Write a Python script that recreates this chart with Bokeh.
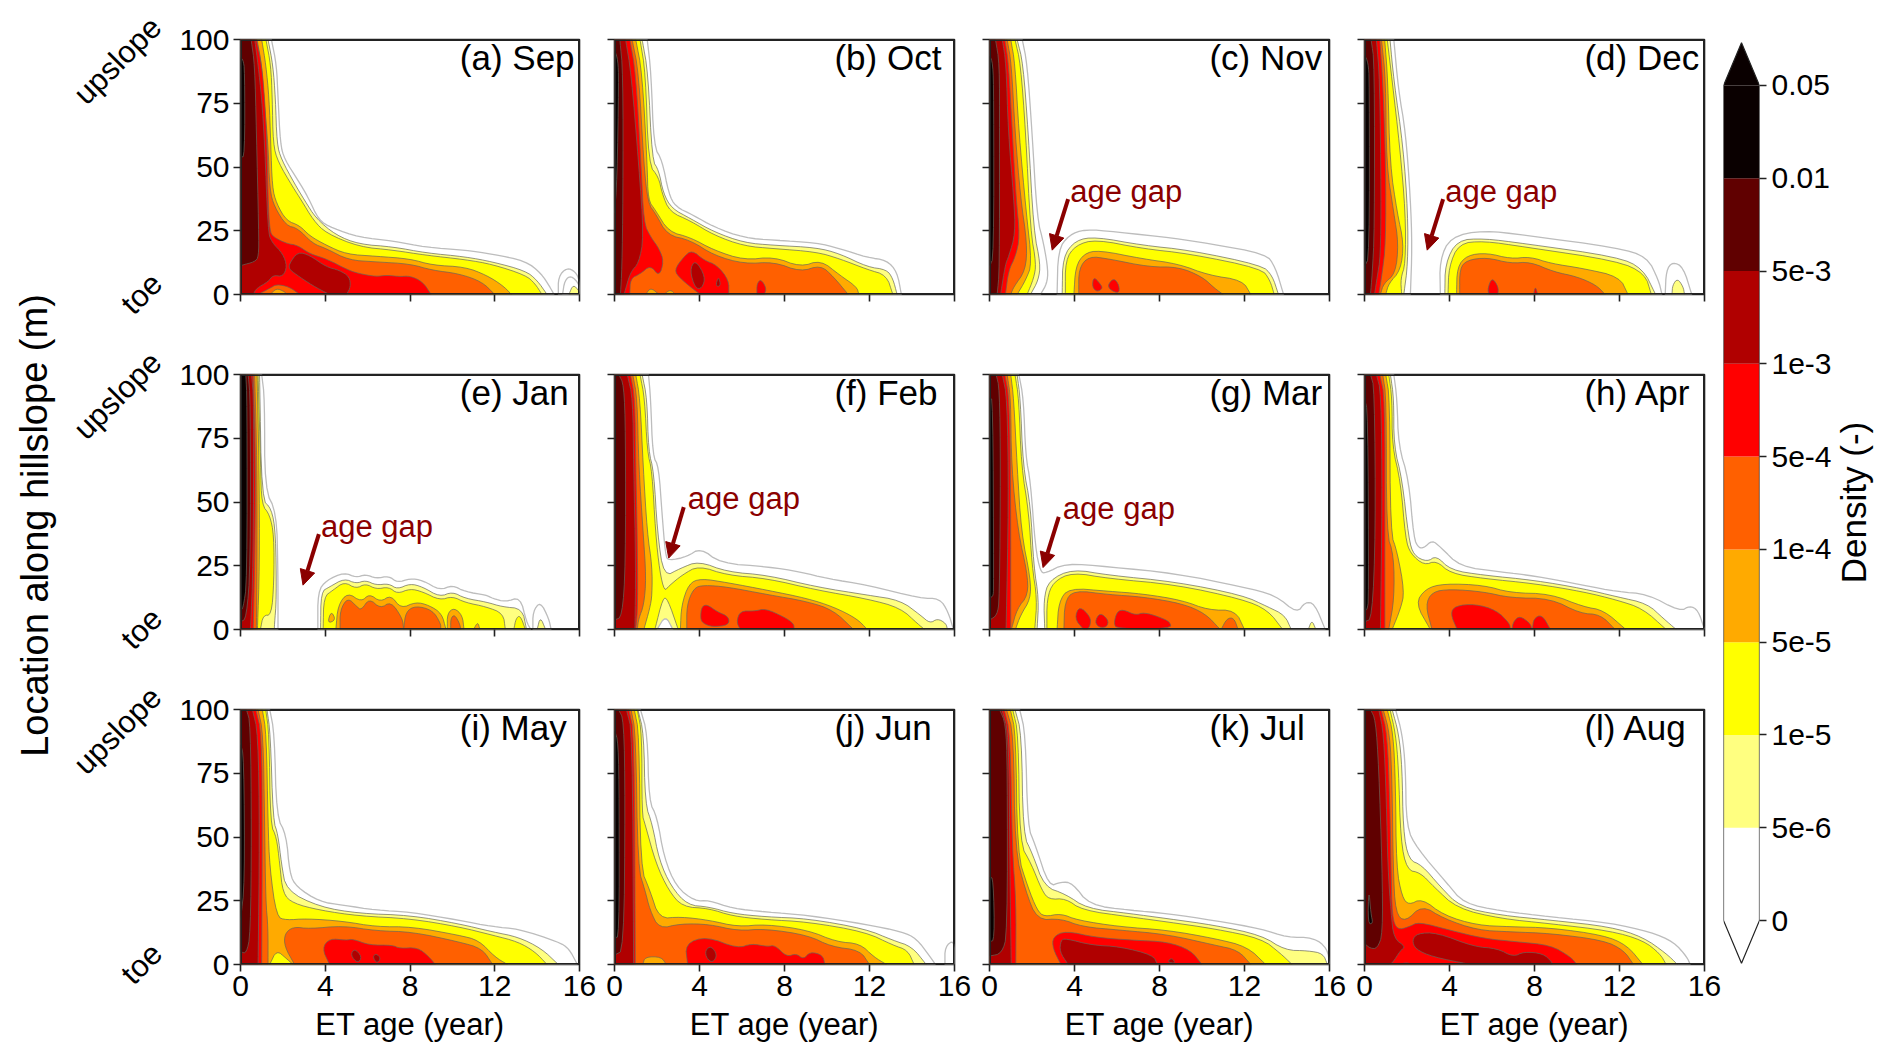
import math
from bokeh.plotting import figure
from bokeh.layouts import row, column
from bokeh.models import FixedTicker, Label, Arrow, NormalHead, ColumnDataSource, LinearAxis
from bokeh.core.properties import value
from bokeh.embed import file_html
from bokeh.resources import INLINE

# ---- labels ----
LEVEL_COLORS = ["#ffffff", "#ffff80", "#ffff00", "#ffaa00", "#ff6000", "#ff0000", "#b00000", "#600000", "#0a0000"]
CB_LABELS = ["0", "5e-6", "1e-5", "5e-5", "1e-4", "5e-4", "1e-3", "5e-3", "0.01", "0.05"]
X_TICKS = [0, 4, 8, 12, 16]
Y_TICKS = [0, 25, 50, 75, 100]
TITLES = ["(a) Sep", "(b) Oct", "(c) Nov", "(d) Dec", "(e) Jan", "(f) Feb", "(g) Mar", "(h) Apr", "(i) May", "(j) Jun", "(k) Jul", "(l) Aug"]

# ---- contour outlines: (level, [age, location, age, location, ...]) ----
SEP = [
 (0,[1.46,100,1.7,90,1.77,77.5,1.88,59,2.08,53,2.7,45,3.2,38,3.7,29,4.35,26,5.6,22.4,7.2,21,8.75,18.5,10.6,17.4,11.9,15.8,13.45,13.2,14.2,8.2,14.6,3,14.8,0]),
 (0,[15,0,15,7,15.4,10.5,15.8,9,16,5.6,16,0]),
 (0,[15.2,0,15.3,5.5,15.6,7.5,16,4,16,0]),
 (1,[15.5,0,15.7,4,16,1.2,16,0]),
 (1,[1.3,100,1.53,90,1.65,77,1.72,59,1.93,53,2.55,43.5,3.02,37,3.57,29.8,4.5,23.3,5.6,19.7,7.2,18.7,8.75,16.3,10.6,14.8,11.9,12.8,13.45,9.3,14,5.6,14.47,0]),
 (2,[1.2,100,1.43,90,1.5,77,1.54,59,1.77,52,2.48,42,2.87,37,3.45,29,4.05,24,5.6,18.7,7.2,17.4,8.75,15.4,10.6,13.7,11.9,11.8,13.45,7.6,13.9,4.3,14.23,0]),
 (3,[1,100,1.2,90,1.35,77,1.43,59,1.5,42,1.7,35.7,2.16,29,2.8,27,3.26,23,4.05,19.3,5,15.8,6.4,15,8,14,9.05,11.5,10.6,10.8,11.6,7.6,12.35,3.7,12.8,0]),
 (4,[.78,100,1,90,1.1,77,1.3,59,1.38,41,1.6,34.4,2.16,27,2.7,26,3.4,20,4.05,18,5.1,13.5,6.4,12.8,8,12,9.05,9.5,10.3,8.2,11.4,5,12,0]),
 (5,[.75,100,1,90,1.14,77,1.25,59,1.3,38,1.38,25,1.54,22.6,2.16,20,2.7,19.3,3.26,16,4.05,14,5.1,9.5,5.6,8.2,6.4,7,6.9,7.6,7.5,7,8,7.3,8.6,5,9,0]),
 (4,[.83,0,1.4,2.5,1.7,4,2.3,3,2.8,0]),
 (3,[1.4,0,1.7,2.5,2.1,1,2.2,0]),
 (6,[.67,100,.83,90,1,77,1.14,59,1.3,25,1.46,20.6,2,16,2.2,11,2,7,1.54,7.6,1.3,5,.75,2.4,.6,0]),
 (6,[4.2,0,3.4,3.5,2.6,8,2.3,10,2.3,12,2.7,16.7,3.26,15.4,4.05,10.8,4.67,9.5,5.14,7,5.2,3,5,0]),
 (7,[.5,100,.67,90,.75,64,.86,25,.86,14.8,.67,12.8,.05,11.5,0,11]),
 (8,[0,93,.12,92,.2,88,.2,54,0,54]),
]
OCT = [
 (0,[1.54,100,1.72,87,1.85,58,2.24,52.7,2.55,39.6,2.87,34.4,3.73,31,4.67,26.5,6.1,22.2,7.5,21.3,9.5,20.3,10.6,18,11.9,14.5,12.8,13.5,13.3,8.9,13.5,0]),
 (1,[1.3,100,1.58,87,1.77,52.7,2.08,48.8,2.3,39.6,2.7,33.7,3.57,29.8,4.67,24.6,6.1,20.3,7.5,19.3,9.5,18.4,10.6,16,11.9,10.8,12.8,9.8,13.1,6.3,13.3,0]),
 (2,[1.2,100,1.46,87,1.6,51,2.08,46,2.24,39.6,2.6,32.4,3.57,28.9,4.67,23.3,6.1,19,7.5,18,9.5,16.7,10.6,14,11.9,9.8,12.8,7.6,13.1,0]),
 (3,[1,100,1.3,87,1.54,51,1.58,37,1.93,33,2.55,24.6,3.57,22.4,4.67,17.4,6.1,13.5,7.5,14.8,8.75,10.8,9.7,13.5,10.6,7.6,11.4,3,11.5,0]),
 (4,[.83,100,1.14,87,1.38,51,1.58,35.7,1.93,31.8,2.48,23.3,3.57,21.3,4.67,15.4,6.1,12,7.5,12.8,8.75,8.9,9.7,11.5,10.3,7,11,0]),
 (3,[1.46,0,1.7,2.7,2.1,0]),
 (3,[2.32,0,2.63,2,2.87,0]),
 (5,[.72,100,1,87,1.25,51,1.38,28,1.7,22.6,2.1,18,2.32,13,2.1,7,1.7,11.5,1.2,8,.75,6.3,.72,0]),
 (5,[4.04,0,3.57,3,3.1,6.3,2.8,9.5,3.26,14.8,3.65,17.4,4.2,13.5,4.83,11.5,5.38,5.6,5.38,0]),
 (5,[6.7,0,6.7,4.3,6.9,6,7.15,2.4,7.05,0]),
 (6,[3.8,2.4,3.54,9.5,3.8,13.7,4.28,7,4.12,2.4]),
 (6,[4.75,3.3,4.9,7.2,5,3.3]),
 (6,[.52,100,.78,87,1.14,51,1.38,22.6,1.14,12.2,.75,8.9,.45,0]),
 (7,[.25,100,.4,87,.4,38,.35,10,.28,0]),
 (8,[0,96,.16,92,.2,84,.12,45,0,32]),
]
NOV = [
 (0,[1.54,100,1.77,90.6,2,64,2.24,30,2.55,20,2.76,9.5,2.7,4.3,2.4,0]),
 (0,[3.18,0,3.23,17.4,3.73,23.3,4.5,25.6,5.9,24.6,8.75,22,10.3,20,13,16,13.45,10.8,13.84,0]),
 (1,[1.3,100,1.58,90.6,1.82,64,2.08,25,2.4,12,2.3,5.6,1.93,0]),
 (1,[3.42,0,3.45,14.8,4.05,21.3,5,22.6,7.2,19.3,9.4,17.4,12.8,11.5,13.3,7.6,13.6,0]),
 (2,[1.2,100,1.46,90.6,1.7,64,1.93,25,2.2,12,2.08,6.3,1.77,0]),
 (2,[3.57,0,3.57,13.5,4.05,19.3,5,21.6,7.2,18,9.4,16,12.8,10.2,13.2,5.6,13.4,0]),
 (3,[1,100,1.2,90.6,1.38,64,1.73,32,2,12,1.7,5.6,1.3,0]),
 (3,[3.97,0,4.05,10.8,4.44,16,5.14,17.4,7.2,14,8.9,12,10.3,7.6,11.9,5.6,12.3,0]),
 (4,[.83,100,1.03,90.6,1.2,64,1.46,38,1.77,20,1.7,9.5,1.14,3,1,0]),
 (4,[4.2,0,4.2,10.2,4.67,15,5.6,14,7.5,10.8,8.9,10.8,10,7,10.6,2.4,11,0]),
 (5,[.72,100,.9,90.6,1.07,64,1.25,38,1.43,22.6,1.22,14.8,.9,9.5,.75,0]),
 (5,[4.9,7,5.2,4.3,5.33,2.4,5.06,1,4.83,3]),
 (5,[5.56,3.7,5.85,6.5,6.1,3.7,6.1,0.4,5.7,1.7]),
 (6,[.6,100,.78,90.6,.88,64,1.14,38,1.22,24,.9,14.8,.75,12,.52,0]),
 (7,[.28,100,.47,90.6,.47,64,.47,9.5,.36,0]),
 (8,[0,94,.16,90.6,.2,77.5,.2,14.8,0,11]),
]
DEC = [
 (0,[1.38,100,1.6,80,1.93,64,2.16,38,2.24,18.7,2.16,0]),
 (0,[3.57,0,3.54,13.5,4.05,22.6,5.6,25.2,7.5,23.3,11.9,18.4,13.3,14.8,13.84,5.6,14,0]),
 (0,[14.15,0,14.2,9.5,14.5,12.8,15,10.8,15.4,0]),
 (1,[14.47,0,14.5,3.7,14.73,6.3,15,3,15.06,0]),
 (1,[1.2,100,1.38,84,1.82,58,2.04,32,2.04,12,1.85,0]),
 (1,[3.78,0,3.8,12.2,4.36,21.3,5.6,22,7.5,20,11.9,14.8,13.1,10.2,13.7,0]),
 (2,[1.07,100,1.3,84,1.66,58,1.93,32,1.93,12,1.7,6.3,1.75,0]),
 (2,[3.93,0,3.97,10.8,4.44,20,5.6,21,7.5,18.7,11.9,13.2,13.2,8.2,13.5,0]),
 (3,[.95,100,1.1,84,1.2,51,1.54,32,1.85,20,1.7,9.5,1.14,4.3,1,0]),
 (3,[4.33,0,4.36,10.8,4.83,15.4,5.77,16.3,6.87,14,7.8,14.8,8.75,12.2,10.3,10.2,12,7,12.4,0]),
 (4,[.8,100,1,84,1.03,51,1.38,32,1.6,20,1.46,8.2,.9,4.3,.75,0]),
 (4,[4.48,0,4.48,10.2,4.83,13.5,5.77,14.5,6.87,12.2,7.8,12.8,8.9,8.9,10,7,10.9,3.7,11.33,0]),
 (5,[.72,100,.86,84,1,51,1,20,.83,8.2,.67,0]),
 (5,[5.85,0,5.8,2.4,6,6.7,6.3,3,6.28,0]),
 (5,[7.96,0,8.04,3.3,8.15,0]),
 (6,[.56,100,.72,84,.78,38,.75,14.8,.6,7,.47,0]),
 (7,[.31,100,.47,90.6,.47,25,.36,7.6,.28,0]),
 (8,[0,94,.17,91,.23,84,.23,14.8,0,11]),
]
JAN = [
 (0,[1,100,1.14,90.6,1.14,55,1.7,46,1.77,22.6,1.77,0]),
 (0,[3.65,0,3.65,14.8,4.05,19.3,4.9,22.4,5.45,20.4,5.9,21.6,6.4,20,7,21,7.4,18.4,8,20,8.6,19.3,9.4,15.4,10,17.4,10.6,14.8,11.6,13.5,11.9,12.2,12.5,10.8,13.2,12.8,13.5,3,13.7,0]),
 (0,[13.8,0,13.8,7,14.15,11,14.55,4.3,14.66,0]),
 (1,[14,0,14.15,5,14.4,0]),
 (1,[.9,100,1,51,1.46,47.5,1.66,38,1.7,12,1.6,1.7,1.6,0]),
 (1,[3.78,0,3.8,14.8,4.2,16.7,4.9,20,5.45,18,5.9,19.3,6.4,17.4,7,18,7.4,15.8,8,18,8.6,16.7,9.4,12.8,10,14.8,10.6,12.2,11.6,10.8,12.35,8.9,13.3,8.2,13.5,0]),
 (2,[.83,100,.95,64,1,49,1.38,45,1.58,37,1.58,18.7,1.46,5.6,1.07,5.6,.94,0]),
 (2,[3.9,0,3.93,12.8,4.36,15.4,4.9,18.7,5.45,16,5.9,18,6.4,15.8,7,16.7,7.4,14,8,16,8.6,14.8,9.4,11.5,10,13,10.6,10.6,11.6,8.9,12.4,6.3,12.5,0]),
 (2,[12.9,0,13,4.3,13.2,5.6,13.45,0]),
 (3,[.78,100,.88,64,.9,25,.8,0]),
 (3,[4.5,0,4.6,9.5,5.06,14.5,5.7,10.8,6.08,14,6.6,10.8,7.1,13.5,7.57,8.2,8.27,10.8,8.9,9.5,9.5,6.3,9.7,0]),
 (3,[9.76,0,9.76,6.3,10.08,8.5,10.47,5.6,10.55,0]),
 (3,[11,0,11.2,3,11.3,0]),
 (3,[4.1,2.4,4.28,7.3,4.5,3.7]),
 (4,[.67,100,.78,64,.78,25,.75,0]),
 (4,[4.7,0,4.7,7.6,5.06,12.5,5.5,8.9,5.7,7.6,6.08,12.2,6.6,8.2,7.1,11,7.65,4.3,7.7,0]),
 (4,[7.7,0,7.8,7,8.27,9.3,9.06,7.6,9.45,2.4,9.45,0]),
 (4,[9.92,0,9.92,4.3,10.1,5.9,10.34,2.4,10.4,0]),
 (5,[.6,100,.72,64,.67,25,.6,0]),
 (6,[.52,100,.63,90,.6,25,.47,0]),
 (7,[.36,100,.47,90,.47,25,.28,4.3,0,3]),
 (8,[.25,100,.31,90,.31,18.7,.12,8.2,0,7.6]),
]
FEB = [
 (0,[1.6,100,1.7,90.6,1.8,68,2.08,64,2.24,45,2.4,29,2.55,27,3.4,28.5,4.05,32,4.98,26,7.2,24.6,8.75,22.6,10,20,11.9,17.4,14.4,12.2,15.3,12.2,15.7,7,15.95,0]),
 (1,[1.3,100,1.53,90.6,1.6,70,1.85,62,2.02,38,2.32,20.6,3.1,24,3.96,26.8,5.3,22.6,7.2,21.3,9.5,16.7,11.9,13.5,13.45,11.5,14.4,5.6,14.85,2.4,15.2,4.3,15.6,2.4,15.67,0]),
 (2,[1.2,100,1.42,90.6,1.54,70,1.77,62,1.93,38,2.13,22.6,2.35,15,2.55,17,3.2,21.5,3.96,25,5.3,21.3,7.2,20,9.5,15.5,11.9,12,13.45,8.5,14.3,2,14.6,0]),
 (1,[1.9,0,2.28,12.5,2.5,12,3,0]),
 (0,[2,0,2.4,5.5,2.75,0]),
 (3,[3.1,0,3.15,9.5,3.5,18,4.05,20,5.3,18.4,7.2,15.4,9.06,12.2,10.3,8.9,11.4,4.3,11.9,0]),
 (3,[1,100,1.2,90.6,1.35,64,1.54,38,1.77,25,1.77,13.5,1.66,8.2,1.38,0]),
 (4,[.86,100,1.07,90.6,1.14,64,1.35,38,1.49,20,1.38,9.5,1.14,4.3,1.07,0]),
 (4,[3.4,0,3.4,9.5,3.73,16.3,4.2,17.4,5.3,16.7,7.2,13.7,9.06,11,10.3,7.6,11.25,0]),
 (5,[.75,100,.96,90.6,1,64,1.07,38,1.1,9.5,1,0]),
 (5,[4.04,4.3,4.1,9,4.36,9.8,4.83,7,5.38,5,5.38,1.7,4.6,1,4.17,2.4]),
 (5,[5.92,0,5.74,3,5.92,7.3,6.6,7.2,7.1,8.2,7.96,5,8.43,2.4,8.46,0]),
 (6,[.6,100,.86,90.6,.9,64,1,25,.96,0]),
 (7,[.2,100,.44,96,.52,77.5,.52,25,.36,5,0,3.7]),
]
MAR = [
 (0,[1.38,100,1.6,90.6,1.7,68,1.93,58,2.16,32,2.4,22.6,2.63,22,3.57,26,5.6,24.6,8.75,22,11.9,16.7,13.45,13.5,14.47,6.3,14.85,10.8,15.3,10.2,15.8,0]),
 (1,[15,0,15.17,3.7,15.36,0]),
 (1,[1.3,100,1.45,90.6,1.58,64,1.93,48.8,2.08,25,2.32,12,2.24,0]),
 (2,[1.2,100,1.38,90.6,1.5,64,1.85,46,2,25,2.24,12,2.13,0]),
 (3,[1,100,1.14,90.6,1.3,64,1.5,38,1.93,20,1.93,12,1.46,5.6,1.22,0]),
 (4,[.83,100,1,90.6,1.03,64,1.35,38,1.77,22.6,1.82,13.5,1.3,8.2,1.03,0]),
 (1,[2.6,0,2.55,12,2.8,19.3,3.9,23.7,5.6,21.3,8.75,18.7,11.9,13.5,13.1,8.9,13.9,5.6,14.2,0]),
 (2,[2.7,0,2.7,12,3,18.7,3.9,22.4,5.6,20,8.75,17.6,11.9,11.9,13.1,7.6,13.8,0]),
 (3,[3.18,0,3.26,10.8,3.73,16.3,5.6,15,7.2,14,9.06,11.5,10.3,7.6,11.57,7.6,12,0]),
 (4,[3.5,0,3.54,10.8,3.97,15.4,5.6,13.7,7.2,12.8,9.06,10.2,10.15,6.3,10.86,0]),
 (4,[10.9,0,11.17,4.3,11.5,4.6,11.7,0]),
 (5,[4.43,0,4,4.3,4.23,9.3,4.75,5,4.75,1.7,4.6,0]),
 (5,[4.95,3,5.2,6.7,5.6,3.7,5.53,1,5.17,.7]),
 (5,[5.85,2.4,6,7,6.3,7.8,6.87,5.6,7.26,6.7,7.96,5,8.5,3,8.54,.3,6,.3]),
 (5,[.72,100,.94,90.6,1,51,1,0]),
 (6,[.6,100,.83,90.6,.9,51,.78,0]),
 (7,[.31,100,.47,94.5,.52,64,.47,12,.36,5.6,0,3.7]),
 (8,[0,91,.16,90,.2,16,.16,12.8,0,12.8]),
]
APR = [
 (0,[1.38,100,1.53,90.6,1.6,72,2.08,59,2.32,35.7,2.55,32,2.8,32,3.18,35,3.57,32.4,4.5,24.6,6.4,22.6,8,21,10.3,17.4,11.9,14.8,13.3,14,14.85,7,15.3,9.3,15.7,7.6,16,0]),
 (1,[1.22,100,1.38,90.6,1.38,72,1.77,59,2.08,35.7,2.32,29,2.95,26.5,3.38,29,4.05,23.3,5.6,21.3,8,19.3,10.3,16,11.9,12.8,13.3,10.2,14.07,4.3,14.67,0]),
 (2,[1.14,100,1.3,90.6,1.3,72,1.7,58,1.93,35.7,2.16,29.8,2.8,25.2,3.38,27,4.05,22,5.6,20,8,18,10.3,14.8,11.9,11.5,13.1,8.2,14.2,0]),
 (3,[1,100,1.19,90.6,1.22,38,1.54,30.5,1.88,14.8,1.7,8.2,1.3,0]),
 (3,[3.1,0,2.4,10.2,2.87,16,3.73,18,5.6,17.4,6.87,14.4,8.75,14,10.3,8.9,11.25,7.6,12.3,0]),
 (4,[.86,100,1.03,90.6,1.03,38,1.38,29,1.4,12,1.14,0]),
 (4,[3.18,0,2.87,9.5,3.18,14.8,4.05,15.8,5.6,14.8,6.87,12.4,8.75,12.2,10.15,6.3,11.1,5.9,11.8,0]),
 (5,[4.36,0,4.04,6.3,4.28,9.3,5.2,10,6.2,7.6,6.83,2.4,6.87,0]),
 (5,[6.94,0,7,3,7.3,5.4,7.8,2.4,7.88,0]),
 (5,[7.9,0,7.96,4.3,8.35,5.9,8.75,0]),
 (5,[.72,100,.96,90.6,.96,38,.96,0]),
 (6,[.56,100,.78,93,.83,51,.75,0]),
 (7,[.28,100,.47,94.5,.52,38,.36,4.3,0,3]),
 (8,[0,90.6,.16,85,.2,12,.12,7.6,0,7.6]),
]
MAY = [
 (0,[1.38,100,1.6,90.6,1.7,58,2.16,51,2.32,35.7,2.63,30.5,3.73,24.6,4.83,23.3,6.4,21.3,8,20.6,10.3,17.4,11.9,14.8,13.1,14,15,8.9,15.5,6.3,15.9,0]),
 (1,[1.25,100,1.41,90.6,1.54,56.6,1.77,51,1.93,39.6,2.16,29,3.73,22.6,5.6,20,8,19.3,10.3,16,11.9,12.8,13.1,10.8,14.2,6.3,15,0]),
 (2,[1.19,100,1.35,90.6,1.41,55,1.7,50,1.85,39.6,2,27.8,2.48,24,3.73,21.3,5.6,19,8,18,10.3,14.8,11.9,11.5,13.1,8.9,13.9,5,14.47,0]),
 (3,[1.03,100,1.22,90.6,1.3,55,1.38,38,1.7,18.7,2.16,17.4,3.1,18,4.83,17,6.4,14.8,8.1,14.8,10.3,11.5,11.25,9.5,12,3,12.6,0]),
 (2,[1.38,0,1.7,5.6,2.16,2.4,2.48,0]),
 (4,[.83,100,1.07,90.6,1.14,55,1.19,25,1.3,14.8,1.3,0]),
 (4,[2.55,0,2.08,7,2.08,12,2.48,14.8,3.26,14,4.83,15.2,6.4,13.2,8.1,12.8,10.3,8.9,11.4,6.3,11.9,0]),
 (5,[.72,100,1,90.6,1.03,51,1,0]),
 (5,[4.2,0,3.85,6.3,4.2,10.2,4.98,9.5,5.3,10,6.08,7.6,7.18,7.6,7.5,6.3,8.36,6.7,8.9,3,9.2,0]),
 (6,[.56,100,.83,90.6,.9,51,.83,0]),
 (6,[5.19,3.7,5.38,6.3,5.74,3,5.53,.4]),
 (6,[6.24,3,6.4,4.3,6.63,2.4,6.43,.4]),
 (7,[.28,100,.47,94.5,.52,51,.47,12,.28,4.3,0,5]),
 (8,[0,86.7,.16,81.4,.2,31.8,0,17.4]),
]
JUN = [
 (0,[1.22,100,1.55,90.6,1.62,64,2,58,2.33,42,2.9,30.5,3.78,24.8,4.44,25.2,5.55,22,7.1,20.6,9.1,19.3,11.8,15.8,13.55,12.8,14.2,10.2,14.8,3.7,15.1,0]),
 (0,[15.55,0,15.55,7,16,9.8,16,0]),
 (1,[1.1,100,1.38,90.6,1.44,63,1.78,55,2.1,41,2.67,30.5,3.44,23.3,4.44,22.6,5.55,20,7.1,18.7,9.1,18,11.8,14,13.1,9.5,14,7,14.67,0]),
 (2,[1.07,100,1.29,90.6,1.29,59,1.44,55,1.95,39.6,2.55,29,3.2,22.6,4.44,22,5.55,19,7.1,17.6,9.1,16.7,11.8,12.8,13.1,7.6,13.8,5.6,14.1,0]),
 (3,[.93,100,1.16,90.6,1.22,38,1.67,29,2.1,18,3.1,18.7,4.44,17.4,5.8,14.8,7.1,15.8,9.1,13.5,10.44,8.9,11.55,8.2,12.2,3,12.8,0]),
 (4,[.78,100,1,90.6,1.1,38,1.44,29,1.67,21.3,2.1,14,3.1,16,4.44,15.8,5.8,13.2,7.1,14,9.1,11.5,10.2,7,11.55,5.6,12,0]),
 (3,[1.33,0,1.44,3,2.2,3,2.44,0]),
 (5,[.67,100,.93,90.6,.98,0]),
 (5,[3.44,0,3.33,8.2,4.33,11,5.8,6.3,6.44,8.2,7.2,7,7.55,7.6,8.1,3,8.55,4.3,8.9,2,9.2,5,9.8,3.7,9.9,0]),
 (6,[.56,100,.84,90.6,.9,0]),
 (6,[4.27,5.6,4.55,7.3,4.84,3.7,4.62,.7,4.33,2.4]),
 (7,[.18,100,.44,96,.5,64,.44,5.6,0,3.7]),
 (8,[0,92,.18,87,.22,64,.22,10.8,0,10.6]),
]
JUL = [
 (0,[1.42,100,1.69,90.6,1.8,54,2.13,47.5,2.8,30.5,3.36,32.4,3.9,32,4.7,23.3,6.58,21.3,8.36,20,10.6,17.2,12.8,14,14,10.6,15.25,10.6,15.9,6.3,16,0]),
 (1,[1.2,100,1.51,90.6,1.58,51,2.02,43.5,2.58,30.5,3.58,27.6,4.58,22,6.58,20,8.36,18,10.6,15.4,12.8,11.5,13.9,5.6,15,5.4,15.7,4.3,15.9,0]),
 (2,[1.09,100,1.36,90.6,1.42,47.5,1.96,39.6,2.47,29,2.8,25.5,3.58,25.9,4.36,21.3,6.58,18.7,8.36,16.7,10.6,14,12.8,10.2,13.7,4.3,14.24,0]),
 (3,[.98,100,1.24,90.6,1.31,43.5,1.8,30.5,2.24,21.3,2.58,18.7,3.36,20,4.13,17.4,6.13,14.8,8.36,13.5,10.6,10.2,12.13,7,13,0]),
 (4,[.8,100,1.13,90.6,1.2,45,1.69,29,2.24,17.4,3.36,18,4.36,14.8,6.13,13.5,8.36,11.8,10.6,7.6,11.7,5.6,12.3,0]),
 (5,[.69,100,.98,90.6,1.07,45,1.25,25.2,1.24,0]),
 (5,[3.36,0,2.98,6.3,2.98,10.8,3.58,13.2,5,10.6,6.8,9.5,8.36,8.9,9.47,5.6,10,0]),
 (6,[.58,100,.91,90.6,.96,38,1.02,0]),
 (6,[3.7,0,3.3,5,3.36,9.5,3.58,10.2,4.8,7.6,6.13,7,7.7,3.7,7.9,0]),
 (6,[8.36,1,8.58,2.7,8.76,.4]),
 (7,[.47,100,.76,94.5,.84,77.5,.84,12,.58,4.3,0,3.3]),
 (8,[0,34.4,.18,33.7,.24,9.5,0,9]),
]
AUG = [
 (0,[1.46,100,1.77,90.6,1.93,77.5,1.97,54,2.48,45.5,3.89,31.8,4.67,24,6.4,21,8.75,18.7,11.57,16.3,13.45,12.8,14.55,8.9,15.17,3,15.33,0]),
 (1,[1.3,100,1.61,90.6,1.77,77.5,1.82,52.7,2.08,41,2.7,39,3.57,30.5,4.5,22.6,6.4,19.3,8.75,17.4,11.57,14.8,13.1,10.8,14.2,4.3,14.73,0]),
 (2,[1.2,100,1.46,90.6,1.6,77.5,1.7,48.8,2,37,2.63,36,3.26,30.5,4.36,22,6.4,18,8.75,16,11.57,13.2,13.1,9.5,13.9,4.3,14.2,0]),
 (3,[1.07,100,1.35,90.6,1.46,71,1.5,38,1.77,26.5,2.08,23.3,2.7,25.9,3.73,19.3,5.3,15.4,6.87,14.8,8.75,14.4,11.25,11.5,12.35,7.6,13.1,0]),
 (4,[.88,100,1.19,90.6,1.3,71,1.35,38,1.46,20,1.93,16.7,2.7,23.3,3.73,18,5.3,13.5,6.87,12.8,8.75,12.2,11.25,9.5,12.2,5.6,12.66,0]),
 (5,[.78,100,1.07,90.6,1.19,64,1.25,38,1.3,18.7,1.54,13.5,2.1,14.8,2.55,16.7,4,13.5,5.6,10.2,7.18,8.9,8.75,7.6,9.7,3,10,0]),
 (4,[1.6,0,2,.8,2.2,0]),
 (6,[.67,100,.9,90.6,1.03,64,1.1,38,1.25,20,1.38,10.2,1.93,7,1.7,5.6,1.3,.4,1.14,0]),
 (6,[5,0,3.2,3,2.4,6,2.24,9.5,2.48,12.2,3.4,12.5,5.14,7,6.24,6.3,7,3,7.5,5,8.4,4.3,8.82,1,8.82,0]),
 (7,[.28,100,.52,96,.67,77.5,.83,38,.86,12,.6,6.3,.28,6.3,0,8.2]),
 (8,[.2,30,.3,20,.4,16,.16,16]),
]
PANELS = [SEP, OCT, NOV, DEC, JAN, FEB, MAR, APR, MAY, JUN, JUL, AUG]

# age-gap notes
GAP_PANELS = [2, 3, 4, 5, 6]
GAP_TEXT_X = [3.8, 3.8, 3.8, 3.45, 3.45]
GAP_TEXT_Y = [40.3, 40.3, 40.3, 51.4, 47.5]
GAP_TAIL_X = [3.7, 3.7, 3.7, 3.26, 3.26]
GAP_TAIL_Y = [37.4, 37.4, 37.4, 48, 44.2]
GAP_HEAD_X = [2.95, 2.95, 2.95, 2.55, 2.52]
GAP_HEAD_Y = [17.4, 17.4, 17.4, 28, 24.3]

FONT = "Liberation Sans"
FRAME_W, FRAME_H = 340, 255
LEFT_W = 176          # width of the strip holding the left-hand texts
# vertical geometry shared by the colour bar and the two text strips
SIDE_TOP, SIDE_FRAME, SIDE_BOTTOM = 2, 1040, 3


def chaikin(pts, closed, n=2):
    for _ in range(n):
        out = []
        m = len(pts)
        rng = m if closed else m - 1
        if not closed:
            out.append(pts[0])
        for i in range(rng):
            a, b = pts[i], pts[(i + 1) % m]
            out.append((0.75 * a[0] + 0.25 * b[0], 0.75 * a[1] + 0.25 * b[1]))
            out.append((0.25 * a[0] + 0.75 * b[0], 0.25 * a[1] + 0.75 * b[1]))
        if not closed:
            out.append(pts[-1])
        pts = out
    return pts


def outline(flat):
    pts = list(zip(flat[0::2], flat[1::2]))
    a, b = pts[0], pts[-1]
    closed = a[0] > 0 and 0 < a[1] < 100 and b[1] > 0
    smooth = chaikin(pts, closed)
    extra = []
    if b[1] == 0 and b[0] > 0 and a[1] == 100:
        extra = [(0, 0), (0, 100)]
    elif a[1] == 100 and a[0] > 0 and b[0] == 0:
        extra = [(0, 100)]
    elif a[0] == 0 and b[1] == 0 and b[0] > 0:
        extra = [(0, 0)]
    smooth = smooth + extra
    return [p[0] for p in smooth], [p[1] for p in smooth]


def panel(idx):
    r, c = idx // 4, idx % 4
    left = 239 - LEFT_W if c == 0 else 17
    right = 18
    top = 39 if r == 0 else 10
    bottom = 86 if r == 2 else 70
    p = figure(width=left + FRAME_W + right, height=top + FRAME_H + bottom,
               x_range=(0, 16), y_range=(0, 100), output_backend="svg", toolbar_location=None,
               min_border_left=left, min_border_right=right, min_border_top=top, min_border_bottom=bottom,
               background_fill_color="white", border_fill_color=None)
    xs, ys, fills, lines, widths = [], [], [], [], []
    for lev, flat in PANELS[idx]:
        x, y = outline(flat)
        xs.append(x); ys.append(y)
        fills.append(LEVEL_COLORS[lev])
        lines.append("#bdbdbd" if lev == 0 else "#66665a")
        widths.append(1.3 if lev == 0 else 0.7)
    src = ColumnDataSource(dict(xs=xs, ys=ys, f=fills, l=lines, w=widths))
    p.patches("xs", "ys", source=src, fill_color="f", line_color="l", line_width="w")
    # frame drawn above the filled contours (half of the stroke is clipped by the frame)
    p.line([X_TICKS[0], X_TICKS[-1], X_TICKS[-1], X_TICKS[0], X_TICKS[0]],
           [Y_TICKS[0], Y_TICKS[0], Y_TICKS[-1], Y_TICKS[-1], Y_TICKS[0]],
           line_color="#222222", line_width=3)
    p.grid.visible = False
    p.outline_line_color = "#222222"
    p.outline_line_width = 1.6
    for ax, ticks in ((p.xaxis[0], X_TICKS), (p.yaxis[0], Y_TICKS)):
        ax.ticker = FixedTicker(ticks=ticks)
        ax.axis_line_color = None
        ax.major_tick_line_color = "#222222"
        ax.major_tick_line_width = 1.6
        ax.major_tick_in = 0
        ax.major_tick_out = 7
        ax.minor_tick_line_color = None
        ax.major_label_text_font = FONT
        ax.major_label_text_color = "#000000"
        ax.major_label_text_font_size = "30px"
        ax.major_label_standoff = 4
    p.yaxis[0].major_label_orientation = "horizontal"
    if r < 2:
        p.xaxis[0].major_label_overrides = {t: "" for t in X_TICKS}
    else:
        p.xaxis[0].axis_label = "ET age (year)"
        p.xaxis[0].axis_label_text_font = FONT
        p.xaxis[0].axis_label_text_font_style = "normal"
        p.xaxis[0].axis_label_text_font_size = "31px"
        p.xaxis[0].axis_label_text_color = "#000000"
        p.xaxis[0].axis_label_standoff = 8
    if c > 0:
        p.yaxis[0].major_label_overrides = {t: "" for t in Y_TICKS}
    p.add_layout(Label(x=10.35, y=92.8, text=TITLES[idx], text_font=FONT, text_font_size="35px",
                       text_align="left", text_baseline="middle", text_color="#000000"))
    if idx in GAP_PANELS:
        k = GAP_PANELS.index(idx)
        p.add_layout(Arrow(x_start=GAP_TAIL_X[k], y_start=GAP_TAIL_Y[k], x_end=GAP_HEAD_X[k], y_end=GAP_HEAD_Y[k],
                           line_color="#8b0000", line_width=4,
                           end=NormalHead(size=15, fill_color="#8b0000", line_color="#8b0000")))
        p.add_layout(Label(x=GAP_TEXT_X[k], y=GAP_TEXT_Y[k], text="age gap", text_font=FONT, text_font_size="31px",
                           text_align="left", text_baseline="middle", text_color="#8b0000"))
    return p


def text_strip(width, texts):
    """A plain figure used only to carry rotated texts: (x px, y px from page top, text, degrees, size)."""
    s = figure(width=width, height=SIDE_TOP + SIDE_FRAME + SIDE_BOTTOM,
               x_range=(0, width), y_range=(SIDE_TOP + SIDE_FRAME, SIDE_TOP),
               output_backend="svg", toolbar_location=None,
               min_border_left=0, min_border_right=0, min_border_top=SIDE_TOP, min_border_bottom=SIDE_BOTTOM,
               border_fill_color=None, background_fill_color=None, outline_line_color=None)
    s.axis.visible = False
    s.grid.visible = False
    for x, y, t, deg, size in texts:
        s.text([x], [y], text=[t], angle=[math.radians(deg)], text_font=value(FONT), text_font_size=value(size),
               text_align="center", text_baseline="middle", text_color="#000000")
    return s


def colorbar():
    # 92.78 px per colour band, with the "0" tick at page px 920 and the "0.05" tick at 85
    cb = figure(width=1 + 36 + 76, height=SIDE_TOP + SIDE_FRAME + SIDE_BOTTOM, x_range=(0, 1),
                y_range=(-(SIDE_TOP + SIDE_FRAME - 920) / 92.78, 9 + (85 - SIDE_TOP) / 92.78),
                output_backend="svg", toolbar_location=None,
                min_border_left=1, min_border_right=76, min_border_top=SIDE_TOP, min_border_bottom=SIDE_BOTTOM,
                border_fill_color=None, background_fill_color=None, outline_line_color=None)
    cb.grid.visible = False
    xs = [[0, 0.5, 1, 1, 0]]
    ys = [[0, -0.46, 0, 1, 1]]
    fills = [LEVEL_COLORS[0]]
    for i in range(1, 9):
        xs.append([0, 1, 1, 0])
        ys.append([i, i, i + 1, i + 1])
        fills.append(LEVEL_COLORS[i])
    xs.append([0, 0.5, 1])
    ys.append([9, 9.46, 9])
    fills.append(LEVEL_COLORS[8])
    cb.patches(xs, ys, fill_color=fills, line_color=None)
    cb.line([0, 0, 0.5, 1, 1, 0.5, 0], [0, 9, 9.46, 9, 0, -0.46, 0], line_color="#222222", line_width=1.2)
    cb.yaxis.visible = False
    cb.xaxis.visible = False
    rax = LinearAxis(ticker=FixedTicker(ticks=list(range(10))),
                     major_label_overrides={i: CB_LABELS[i] for i in range(10)})
    rax.axis_line_color = None
    rax.major_tick_in = 0
    rax.major_tick_out = 7
    rax.major_tick_line_color = "#222222"
    rax.major_tick_line_width = 1.4
    rax.minor_tick_line_color = None
    rax.major_label_text_font = FONT
    rax.major_label_text_font_size = "30px"
    rax.major_label_text_color = "#000000"
    rax.major_label_standoff = 5
    cb.add_layout(rax, "right")
    return cb


figs = [panel(i) for i in range(12)]
rows = [row(*figs[i:i + 4], spacing=0) for i in (0, 4, 8)]
left_texts = [(34, 525, "Location along hillslope (m)", 90, "38px")]
for dy in (0, 335, 670):
    left_texts.append((117, 60 + dy, "upslope", 45, "31px"))
    left_texts.append((141, 293 + dy, "toe", 45, "31px"))
left = text_strip(LEFT_W, left_texts)
right = text_strip(45, [(18, 502, "Density (-)", 90, "35px")])
layout = row(left, column(*rows, spacing=0), colorbar(), right, spacing=0)
open("out.html", "w").write(file_html(layout, INLINE))
